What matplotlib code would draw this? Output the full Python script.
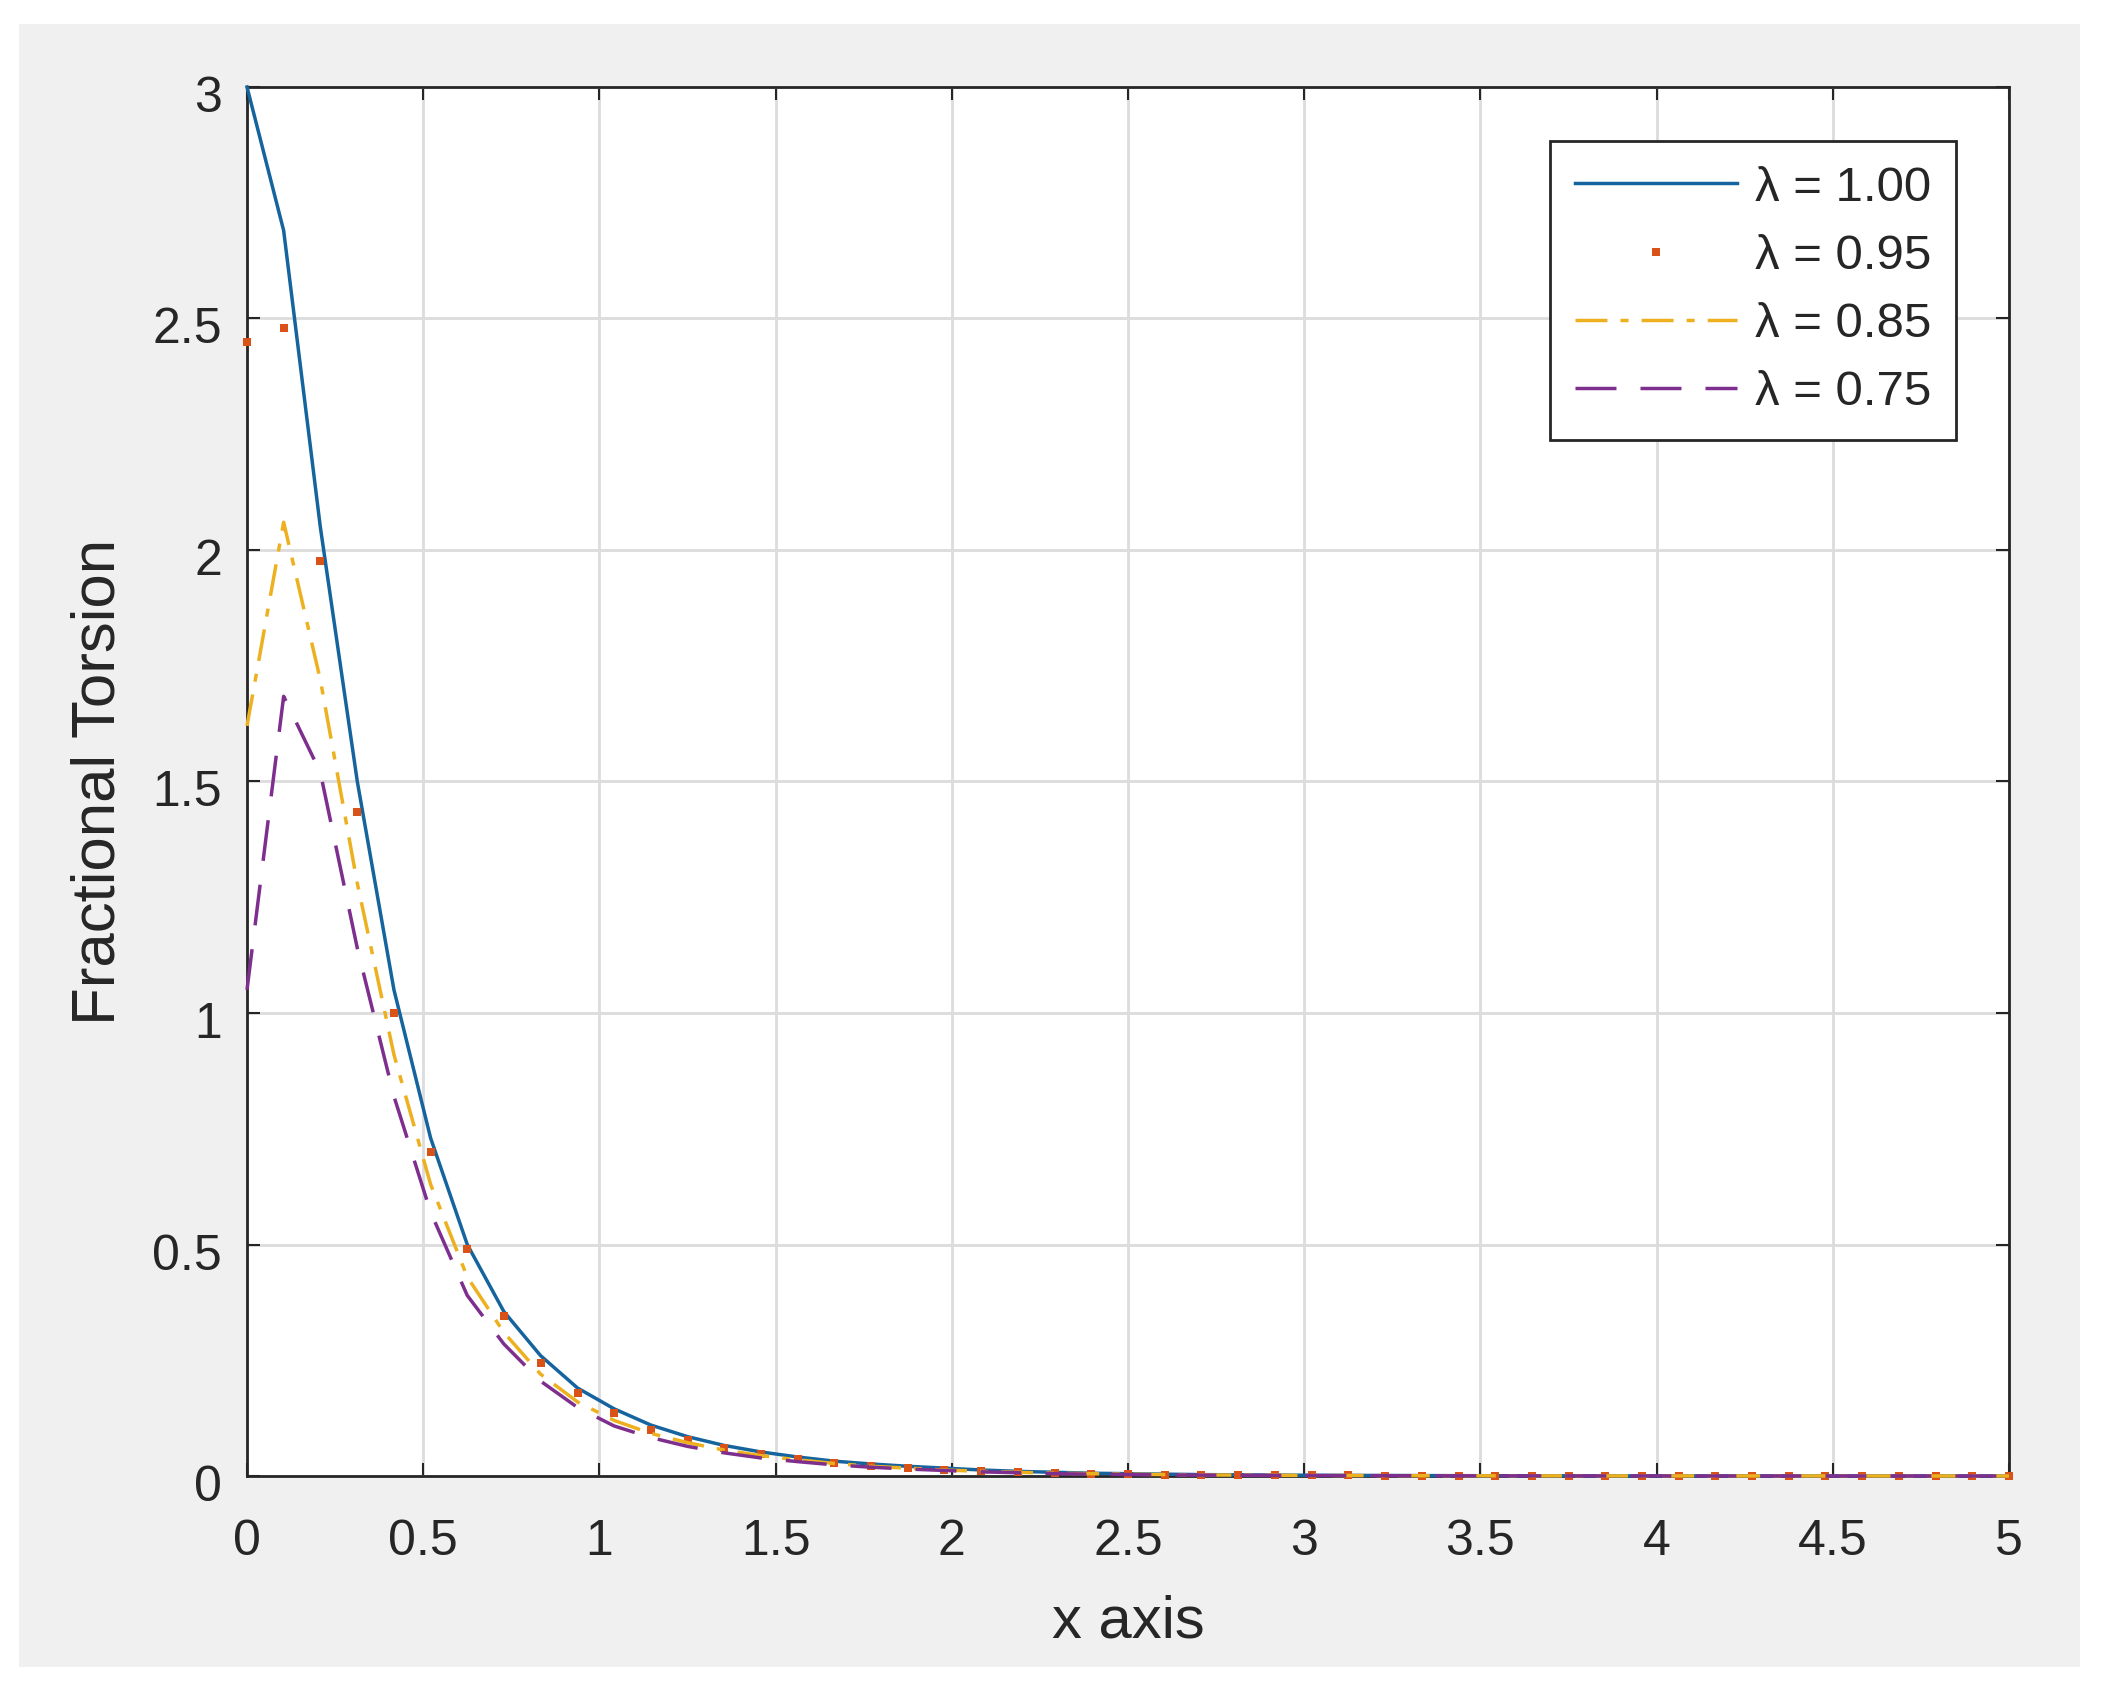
import matplotlib
matplotlib.use('Agg')
import matplotlib.pyplot as plt
from matplotlib.patches import Rectangle
from matplotlib.transforms import ScaledTranslation

plt.rcParams['font.family'] = ['Liberation Sans', 'DejaVu Sans']
plt.rcParams['lines.scale_dashes'] = False

# ---------------- data ----------------
x_axis = [0.000, 0.104, 0.208, 0.313, 0.417, 0.521, 0.625, 0.729, 0.833, 0.938,
          1.042, 1.146, 1.250, 1.354, 1.458, 1.563, 1.667, 1.771, 1.875, 1.979,
          2.083, 2.188, 2.292, 2.396, 2.500, 2.604, 2.708, 2.813, 2.917, 3.021,
          3.125, 3.229, 3.333, 3.438, 3.542, 3.646, 3.750, 3.854, 3.958, 4.063,
          4.167, 4.271, 4.375, 4.479, 4.583, 4.688, 4.792, 4.896, 5.000]

torsion_100 = [3.00, 2.69, 2.05, 1.50, 1.05, 0.73, 0.50, 0.355, 0.26, 0.19,
               0.145, 0.11, 0.085, 0.066, 0.052, 0.041, 0.032, 0.026, 0.021, 0.017,
               0.013, 0.010, 0.008, 0.006, 0.005, 0.004, 0.003, 0.0025, 0.002, 0.0016,
               0.0013, 0.0011, 0.0009, 0.0007, 0.0006, 0.0005, 0.0004, 0.0003, 0.0003, 0.0002,
               0.0002, 0.0002, 0.0001, 0.0001, 0.0001, 0.0001, 0.0001, 0.0000, 0.0000]

torsion_095 = [2.45, 2.48, 1.976, 1.435, 1.00, 0.70, 0.49, 0.346, 0.245, 0.18,
               0.136, 0.10, 0.077, 0.06, 0.047, 0.037, 0.028, 0.022, 0.018, 0.014,
               0.011, 0.009, 0.007, 0.005, 0.004, 0.003, 0.0025, 0.002, 0.0016, 0.0013,
               0.0011, 0.0009, 0.0007, 0.0006, 0.0005, 0.0004, 0.0003, 0.0003, 0.0002, 0.0002,
               0.0002, 0.0001, 0.0001, 0.0001, 0.0001, 0.0001, 0.0000, 0.0000, 0.0000]

torsion_085 = [1.62, 2.06, 1.72, 1.28, 0.91, 0.63, 0.43, 0.31, 0.22, 0.16,
               0.12, 0.092, 0.072, 0.056, 0.044, 0.035, 0.027, 0.021, 0.017, 0.013,
               0.010, 0.008, 0.006, 0.005, 0.004, 0.003, 0.0024, 0.0019, 0.0015, 0.0012,
               0.0010, 0.0008, 0.0006, 0.0005, 0.0004, 0.0003, 0.0003, 0.0002, 0.0002, 0.0002,
               0.0001, 0.0001, 0.0001, 0.0001, 0.0001, 0.0000, 0.0000, 0.0000, 0.0000]

torsion_075 = [1.05, 1.684, 1.52, 1.14, 0.82, 0.57, 0.39, 0.285, 0.205, 0.148,
               0.108, 0.083, 0.064, 0.05, 0.039, 0.031, 0.024, 0.019, 0.015, 0.012,
               0.009, 0.007, 0.005, 0.004, 0.003, 0.0024, 0.0019, 0.0015, 0.0012, 0.0010,
               0.0008, 0.0006, 0.0005, 0.0004, 0.0003, 0.0003, 0.0002, 0.0002, 0.0002, 0.0001,
               0.0001, 0.0001, 0.0001, 0.0001, 0.0000, 0.0000, 0.0000, 0.0000, 0.0000]

series_labels = ['λ = 1.00', 'λ = 0.95', 'λ = 0.85', 'λ = 0.75']
x_ticks = [0, 0.5, 1, 1.5, 2, 2.5, 3, 3.5, 4, 4.5, 5]
x_tick_labels = ['0', '0.5', '1', '1.5', '2', '2.5', '3', '3.5', '4', '4.5', '5']
y_ticks = [0, 0.5, 1, 1.5, 2, 2.5, 3]
y_tick_labels = ['0', '0.5', '1', '1.5', '2', '2.5', '3']
x_label = 'x axis'
y_label = 'Fractional Torsion'

# ---------------- figure ----------------
W, H = 2102, 1695
fig = plt.figure(figsize=(W / 100, H / 100), dpi=100)
fig.patch.set_facecolor('white')
bg = Rectangle((19 / W, (H - 1667) / H), (2080 - 19) / W, (1667 - 24) / H,
               transform=fig.transFigure, facecolor='#f0f0f0',
               edgecolor='none', zorder=-10)
fig.add_artist(bg)

ax_l, ax_r, ax_t, ax_b = 247, 2009, 87, 1476
ax = fig.add_axes([ax_l / W, (H - ax_b) / H, (ax_r - ax_l) / W, (ax_b - ax_t) / H])
ax.set_facecolor('white')

dark = '#262626'
lw = 2.5
ax.plot(x_axis, torsion_100, color='#15649e', lw=lw, label=series_labels[0],
        zorder=3, clip_on=False)
ax.plot(x_axis, torsion_095, linestyle='none', marker='s', markersize=6.0,
        markeredgewidth=0, color='#D95319', label=series_labels[1], zorder=3, clip_on=False)
ax.plot(x_axis, torsion_085, color='#EDB120', lw=lw, linestyle=(0, (23, 9.4, 5.8, 9.4)),
        label=series_labels[2], zorder=3, clip_on=False)
ax.plot(x_axis, torsion_075, color='#7E2F8E', lw=lw, linestyle=(0, (29.5, 17.3)),
        label=series_labels[3], zorder=3, clip_on=False)

ax.set_xlim(0, 5)
ax.set_ylim(0, 3)
ax.set_xticks(x_ticks)
ax.set_xticklabels(x_tick_labels)
ax.set_yticks(y_ticks)
ax.set_yticklabels(y_tick_labels)
ax.grid(True, color='#dcdcdc', lw=2.0, zorder=1)
ax.set_axisbelow(True)

for sp in ax.spines.values():
    sp.set_color(dark)
    sp.set_linewidth(2.0)
    sp.set_zorder(2.5)

ax.tick_params(axis='both', which='major', direction='in', length=9.5, width=1.5,
               color=dark, labelcolor=dark, labelsize=36, top=True, right=True)
ax.tick_params(axis='x', pad=31)
ax.tick_params(axis='y', pad=18)
shift_down = ScaledTranslation(0, -7 / 100, fig.dpi_scale_trans)
for lab in ax.get_yticklabels():
    lab.set_transform(lab.get_transform() + shift_down)

ax.set_xlabel(x_label, fontsize=43, color=dark, va='center')
ax.xaxis.set_label_coords(0.5, (ax_b - 1622) / (ax_b - ax_t))
ax.set_ylabel(y_label, fontsize=44.5, color=dark, va='center')
ax.yaxis.set_label_coords((99 - ax_l) / (ax_r - ax_l), 0.5)

leg = ax.legend(loc='upper right', bbox_to_anchor=(1956 / W, 1 - 141 / H),
                bbox_transform=fig.transFigure, borderaxespad=0, fontsize=35.5,
                handlelength=3.3, handletextpad=0.36, borderpad=0.5,
                labelspacing=0.47, numpoints=1, fancybox=False, framealpha=1,
                edgecolor=dark)
leg.get_frame().set_linewidth(2.0)
for t in leg.get_texts():
    t.set_color(dark)

fig.savefig('out.png', dpi=100, facecolor=fig.get_facecolor())
